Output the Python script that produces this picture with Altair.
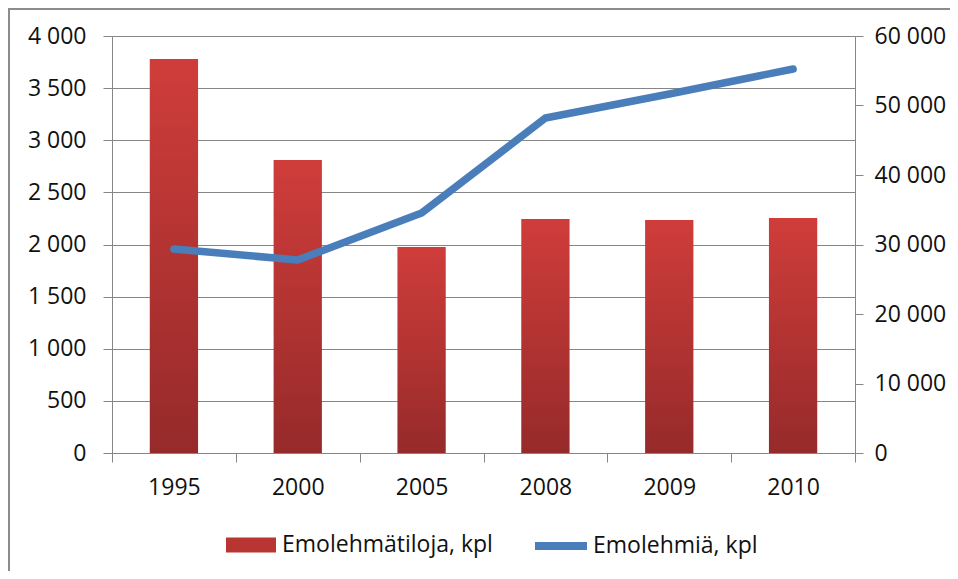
import altair as alt
import pandas as pd

years = ["1995", "2000", "2005", "2008", "2009", "2010"]
farms = [3780, 2810, 1975, 2245, 2235, 2255]
cows = [29350, 27770, 34530, 48200, 51650, 55250]
farms_label = "Emolehmätiloja, kpl"
cows_label = "Emolehmiä, kpl"
left_ticks = [0, 500, 1000, 1500, 2000, 2500, 3000, 3500, 4000]
right_ticks = [0, 10000, 20000, 30000, 40000, 50000, 60000]

df = pd.DataFrame({
    "year": years,
    "farms": farms,
    "cows": cows,
    "s_farms": [farms_label] * len(years),
    "s_cows": [cows_label] * len(years),
})

FONT = "Open Sans"
FS = 23
GRAY = "#868686"
TXT = "#111111"
fmt = "replace(format(datum.value, ','), ',', ' ')"

bar_grad = alt.LinearGradient(
    gradient="linear", x1=0, y1=0, x2=0, y2=1,
    stops=[alt.GradientStop(color="#CF3D3A", offset=0),
           alt.GradientStop(color="#962A2A", offset=1)],
)

x_enc = alt.X(
    "year:N", sort=years,
    scale=alt.Scale(paddingInner=0, paddingOuter=0),
    axis=alt.Axis(title=None, tickBand="extent", labelAngle=0, tickSize=9,
                  labelPadding=14, domainColor=GRAY, tickColor=GRAY, grid=False,
                  labelFont=FONT, labelFontSize=FS, labelColor=TXT),
)

base = alt.Chart(df)

frame = alt.Chart(pd.DataFrame({"a": [0]})).mark_rect(
    filled=False, stroke="#8C8C8C", strokeWidth=2
).encode(x=alt.value(-103), x2=alt.value(900), y=alt.value(-27), y2=alt.value(600))

dummy = base.mark_bar(opacity=0, width=alt.RelativeBandSize(0.39)).encode(
    x=x_enc,
    y=alt.Y("farms:Q", scale=alt.Scale(domain=[0, 4000]), axis=None),
    fill=alt.Fill(
        "s_farms:N",
        scale=alt.Scale(domain=[farms_label], range=["#B83532"]),
        legend=alt.Legend(
            title=None, orient="none", legendX=114, legendY=484,
            symbolType="M-1,-0.3L1,-0.3L1,0.3L-1,0.3Z", symbolSize=2500,
            symbolOpacity=1, symbolStrokeWidth=0, labelOffset=6, labelLimit=400,
            labelFont=FONT, labelFontSize=FS, labelColor=TXT,
        ),
    ),
)

bars = base.mark_bar(fill=bar_grad, width=alt.RelativeBandSize(0.39)).encode(
    x=x_enc,
    y=alt.Y("farms:Q", scale=alt.Scale(domain=[0, 4000]),
            axis=alt.Axis(title=None, orient="left", values=left_ticks, labelExpr=fmt,
                          tickSize=9, labelPadding=17, grid=True, gridColor=GRAY,
                          domainColor=GRAY, tickColor=GRAY,
                          labelFont=FONT, labelFontSize=FS, labelColor=TXT)),
)

line = base.mark_line(strokeWidth=7.5, strokeCap="round", strokeJoin="round").encode(
    x=x_enc,
    y=alt.Y("cows:Q", scale=alt.Scale(domain=[0, 60000]),
            axis=alt.Axis(title=None, orient="right", values=right_ticks, labelExpr=fmt,
                          tickSize=8, labelPadding=11, grid=False,
                          domainColor=GRAY, tickColor=GRAY,
                          labelFont=FONT, labelFontSize=FS, labelColor=TXT)),
    stroke=alt.Stroke(
        "s_cows:N",
        scale=alt.Scale(domain=[cows_label], range=["#4A7EBB"]),
        legend=alt.Legend(
            title=None, orient="none", legendX=419, legendY=480,
            symbolType="stroke", symbolSize=2704, symbolStrokeWidth=8, labelOffset=2,
            labelLimit=400,
            labelFont=FONT, labelFontSize=FS, labelColor=TXT,
        ),
    ),
)

chart = alt.layer(frame, dummy, bars, line).resolve_scale(
    y="independent"
).properties(
    width=743, height=417,
    autosize=alt.AutoSizeParams(type="none"),
    padding={"left": 104, "top": 28, "right": 95, "bottom": 118},
).configure_view(stroke=None).configure(background="white")

chart.save("out.html", embed_options={"renderer": "svg", "actions": False})
